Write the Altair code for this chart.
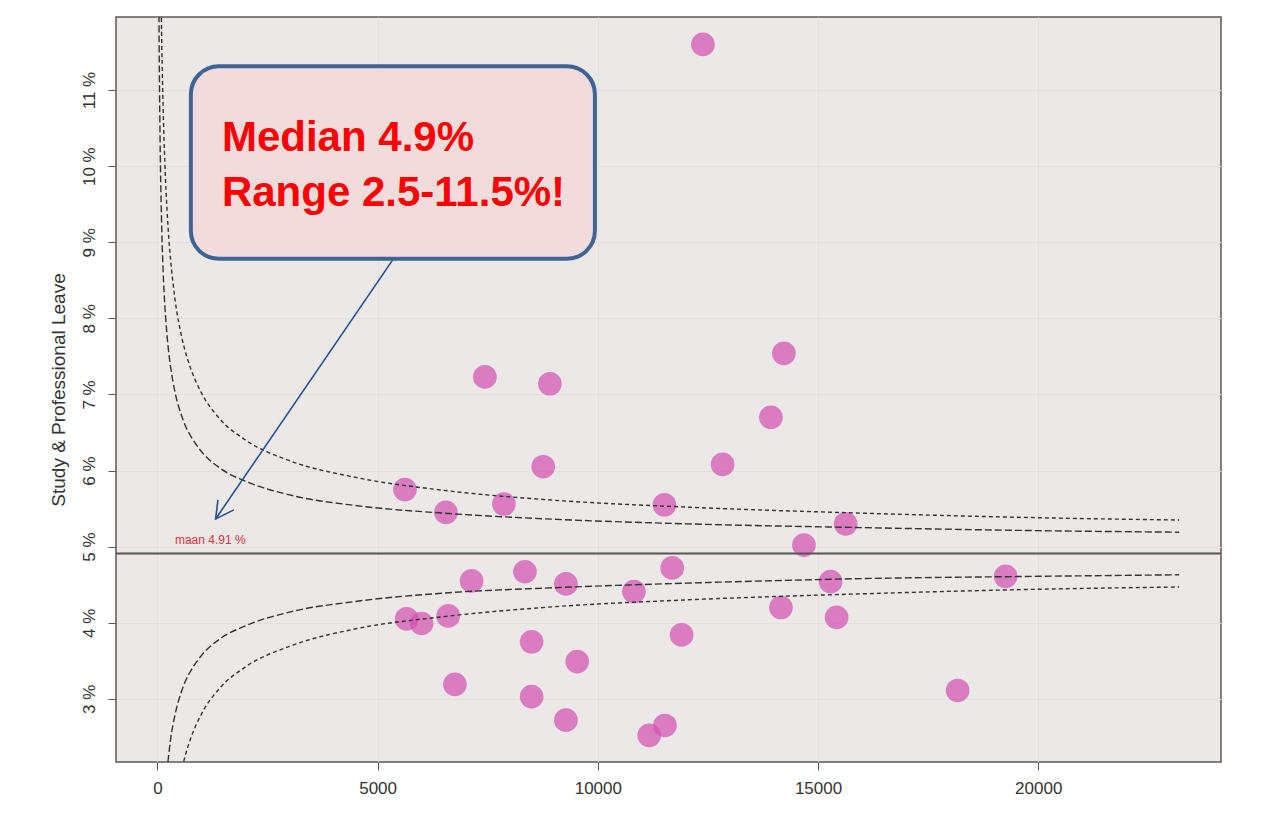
import altair as alt
import pandas as pd

# ---------------- data ----------------
volume = [12387, 14225, 13930, 7436, 8912, 12834, 8760, 5620, 6551, 7868,
          11512, 15627, 14680, 7134, 8345, 9276, 10820, 11689, 15286, 19260,
          5659, 5999, 6603, 14158, 15422, 8497, 11903, 9532, 6755, 8497,
          18170, 9276, 11167, 11524]
leave_pct = [11.60, 7.54, 6.70, 7.23, 7.14, 6.08, 6.05, 5.75, 5.45, 5.56,
             5.55, 5.30, 5.02, 4.55, 4.67, 4.51, 4.41, 4.72, 4.54, 4.61,
             4.05, 3.99, 4.09, 4.20, 4.07, 3.75, 3.84, 3.49, 3.19, 3.03,
             3.11, 2.72, 2.52, 2.65]

mean_pct = 4.91

curve_n = [30, 40, 50, 60, 80, 100, 130, 170, 220, 260, 300, 400, 550, 650,
           750, 1000, 1400, 2000, 3000, 4500, 6500, 9000, 12000, 16000, 20000, 23200]
inner_upper = [12.64, 11.61, 10.90, 10.38, 9.65, 9.15, 8.62, 8.16, 7.77, 7.54, 7.36,
               7.03, 6.72, 6.57, 6.46, 6.25, 6.04, 5.86, 5.68, 5.54, 5.44, 5.36,
               5.30, 5.25, 5.21, 5.19]
outer_upper = [17.10, 15.47, 14.35, 13.53, 12.38, 11.59, 10.77, 10.03, 9.41, 9.05, 8.77,
               8.25, 7.76, 7.53, 7.35, 7.02, 6.69, 6.40, 6.13, 5.91, 5.74, 5.61,
               5.52, 5.44, 5.38, 5.35]
inner_lower = [-2.82, -1.79, -1.08, -0.56, 0.18, 0.68, 1.20, 1.66, 2.06, 2.28, 2.47,
               2.79, 3.10, 3.25, 3.36, 3.57, 3.78, 3.96, 4.14, 4.28, 4.39, 4.46,
               4.52, 4.58, 4.61, 4.63]
outer_lower = [-7.28, -5.65, -4.53, -3.71, -2.56, -1.77, -0.95, -0.21, 0.41, 0.77, 1.06,
               1.57, 2.06, 2.29, 2.47, 2.80, 3.13, 3.42, 3.69, 3.92, 4.08, 4.21,
               4.30, 4.38, 4.44, 4.47]

x_ticks = [0, 5000, 10000, 15000, 20000]
y_ticks = [3, 4, 5, 6, 7, 8, 9, 10, 11]

mean_label = "maan 4.91 %"
box_lines = ["Median 4.9%", "Range 2.5-11.5%!"]
y_title = "Study & Professional Leave"

# ---------------- tables ----------------
pts = pd.DataFrame({"n": volume, "pct": leave_pct})

curves = []
for name, vals, dash in [("inner_upper", inner_upper, "inner"),
                         ("outer_upper", outer_upper, "outer"),
                         ("inner_lower", inner_lower, "inner"),
                         ("outer_lower", outer_lower, "outer")]:
    for i, (n, v) in enumerate(zip(curve_n, vals)):
        curves.append({"n": n, "pct": v, "series": name, "dash": dash, "i": i})
curves = pd.DataFrame(curves)

# annotation anchors in data coordinates
box_df = pd.DataFrame([{"x1": 760, "x2": 9934, "y1": 8.783, "y2": 11.312}])
box_text_df = pd.DataFrame([
    {"x": 1465, "y": 10.205, "t": box_lines[0]},
    {"x": 1465, "y": 9.470, "t": box_lines[1]},
])
arrow_df = pd.DataFrame([
    {"x": 5347, "y": 8.772, "g": "shaft", "o": 0},
    {"x": 1322, "y": 5.364, "g": "shaft", "o": 1},
    {"x": 1737, "y": 5.483, "g": "head", "o": 0},
    {"x": 1322, "y": 5.364, "g": "head", "o": 1},
    {"x": 1374, "y": 5.614, "g": "head", "o": 2},
])
mean_df = pd.DataFrame([{"pct": mean_pct}])
mean_text_df = pd.DataFrame([{"x": 397, "y": 5.0, "t": mean_label}])

# ---------------- scales ----------------
xs = alt.Scale(domain=[-940, 24150], nice=False, zero=False)
ys = alt.Scale(domain=[2.17, 11.96], nice=False, zero=False)

x_axis = alt.Axis(values=x_ticks, format="d", title=None, grid=True,
                  tickSize=8, labelPadding=10)
y_axis = alt.Axis(values=y_ticks, labelExpr="datum.value + ' %'", title=y_title,
                  grid=True, tickSize=8, labelPadding=10, labelAngle=270,
                  labelAlign="center", labelBaseline="bottom", titlePadding=12)

points = alt.Chart(pts).mark_circle(size=560, color="#D24FAF", opacity=0.7).encode(
    x=alt.X("n:Q", scale=xs, axis=x_axis),
    y=alt.Y("pct:Q", scale=ys, axis=y_axis),
)

lines = alt.Chart(curves).mark_line(color="#333333", strokeWidth=1.4, clip=True,
                                    interpolate="monotone").encode(
    x=alt.X("n:Q", scale=xs),
    y=alt.Y("pct:Q", scale=ys),
    detail="series:N",
    order="i:Q",
    strokeDash=alt.StrokeDash("dash:N", legend=None,
                              scale=alt.Scale(domain=["inner", "outer"],
                                              range=[[7, 3], [4, 3]])),
)

mean_rule = alt.Chart(mean_df).mark_rule(color="#555555", strokeWidth=2).encode(
    y=alt.Y("pct:Q", scale=ys)
)

mean_text = alt.Chart(mean_text_df).mark_text(
    align="left", baseline="bottom", fontSize=12, color="#E5333F",
    font="Liberation Sans").encode(
    x=alt.X("x:Q", scale=xs), y=alt.Y("y:Q", scale=ys), text="t:N")

arrow = alt.Chart(arrow_df).mark_line(color="#24508C", strokeWidth=1.6).encode(
    x=alt.X("x:Q", scale=xs), y=alt.Y("y:Q", scale=ys),
    detail="g:N", order="o:Q")

box = alt.Chart(box_df).mark_rect(fill="#F2DCDB", stroke="#3F6393", strokeWidth=4,
                                  cornerRadius=28).encode(
    x=alt.X("x1:Q", scale=xs), x2="x2:Q",
    y=alt.Y("y1:Q", scale=ys), y2="y2:Q")

box_text = alt.Chart(box_text_df).mark_text(
    align="left", baseline="alphabetic", fontSize=42, fontWeight="bold",
    color="#FF0000", font="Liberation Sans").encode(
    x=alt.X("x:Q", scale=xs), y=alt.Y("y:Q", scale=ys), text="t:N")

chart = alt.layer(points, lines, mean_rule, mean_text, arrow, box, box_text).properties(
    width=1105, height=745,
    autosize=alt.AutoSizeParams(type="none"),
    padding={"left": 108, "top": 9, "right": 30, "bottom": 50},
    background="white",
).configure_view(
    fill="#ECE8E7", stroke="#5A5A5A", strokeWidth=1.5
).configure_axis(
    domain=False, tickColor="#555555", tickWidth=1,
    labelFont="Liberation Sans", labelFontSize=17, labelColor="#333333",
    titleFont="Liberation Sans", titleFontSize=19, titleFontWeight="normal",
    titleColor="#333333", gridColor="#E3DFDE", gridWidth=1,
)

chart.save("out.html", embed_options={"renderer": "svg", "actions": False})
